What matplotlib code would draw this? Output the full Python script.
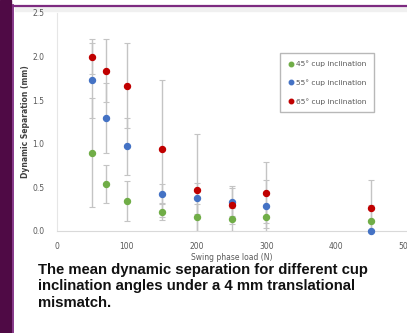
import matplotlib
matplotlib.use('Agg')
import matplotlib.pyplot as plt
from matplotlib.patches import Rectangle
from matplotlib.lines import Line2D

loads = [50, 70, 100, 150, 200, 250, 300, 450]

sep_45 = [0.90, 0.54, 0.34, 0.215, 0.157, 0.134, 0.157, 0.11]
err_45 = [0.63, 0.22, 0.23, 0.09, 0.157, 0.134, 0.12, 0.19]

sep_55 = [1.73, 1.30, 0.97, 0.43, 0.375, 0.337, 0.29, 0.0]
err_55 = [0.43, 0.40, 0.33, 0.11, 0.18, 0.16, 0.30, 0.0]

sep_65 = [2.00, 1.84, 1.667, 0.946, 0.468, 0.295, 0.437, 0.268]
err_65 = [0.20, 0.36, 0.49, 0.79, 0.65, 0.22, 0.35, 0.32]

labels = ['45° cup inclination', '55° cup inclination', '65° cup inclination']
colors = ['#70ad47', '#4472c4', '#c00000']
caption = ('The mean dynamic separation for different cup\n'
           'inclination angles under a 4 mm translational\n'
           'mismatch.')

W, H = 407, 333
fig = plt.figure(figsize=(W / 100, H / 100), dpi=100)
fig.patch.set_facecolor('white')

# slide decoration: purple band on the left, thin purple frame lines
fig.patches.append(Rectangle((0, 0), 11 / W, 1, transform=fig.transFigure,
                             color='#4f0a45', zorder=-1))
fig.patches.append(Rectangle((14.5 / W, 1 - 10.5 / H), 1, 4 / H, transform=fig.transFigure,
                             color='#f0f0f0', zorder=-1))
fig.add_artist(Line2D([13.5 / W, 13.5 / W], [0, 1 - 5 / H], transform=fig.transFigure,
                      color='#7d2a80', lw=1.3))
fig.add_artist(Line2D([13.5 / W, 1], [1 - 5.5 / H, 1 - 5.5 / H], transform=fig.transFigure,
                      color='#7d2a80', lw=1.6))

ax = fig.add_axes([57 / W, 1 - 231 / H, 349 / W, 218 / H])
ax.set_xlim(0, 500)
ax.set_ylim(0, 2.5)

series = [(sep_45, err_45), (sep_55, err_55), (sep_65, err_65)]
for (vals, errs) in series:
    ax.errorbar(loads, vals, yerr=errs, fmt='none', ecolor='#c4c4c4',
                elinewidth=1.0, capsize=2.5, capthick=0.8, zorder=2)
for (vals, errs), c, lab in zip(series, colors, labels):
    ax.plot(loads, vals, 'o', color=c, markersize=4.3, label=lab, zorder=3,
            clip_on=False)

ax.set_xticks([0, 100, 200, 300, 400, 500])
ax.set_yticks([0.0, 0.5, 1.0, 1.5, 2.0, 2.5])
ax.set_yticklabels(['0.0', '0.5', '1.0', '1.5', '2.0', '2.5'])
ax.tick_params(length=0, labelsize=5.5, labelcolor='#595959')
ax.tick_params(axis='x', pad=8)
ax.tick_params(axis='y', pad=9)
for s in ['top', 'right']:
    ax.spines[s].set_visible(False)
ax.spines['left'].set_color('#e6e6e6')
ax.spines['left'].set_linewidth(0.8)
ax.spines['bottom'].set_color('#d9d9d9')
ax.spines['bottom'].set_linewidth(0.8)

ax.set_xlabel('Swing phase load (N)', fontsize=5.5, color='#595959', labelpad=1)
ax.set_ylabel('Dynamic Separation (mm)', fontsize=5.5, color='#404040',
              fontweight='bold', labelpad=2)

leg = ax.legend(loc='upper left', bbox_to_anchor=((280 - 57) / 349, (231 - 53) / 218),
                borderaxespad=0, fontsize=5.4, labelcolor='#595959', frameon=True,
                fancybox=False, handletextpad=0.3, handlelength=0.8, labelspacing=1.6,
                borderpad=1.0, markerscale=0.75)
leg.get_frame().set_edgecolor('#a6a6a6')
leg.get_frame().set_linewidth(1.0)

fig.text(38 / W, 1 - 263 / H, caption, fontsize=10.7, fontweight='bold',
         family='Liberation Sans', color='#111111', va='top', ha='left',
         linespacing=1.22)

fig.savefig('out.png', dpi=100)
